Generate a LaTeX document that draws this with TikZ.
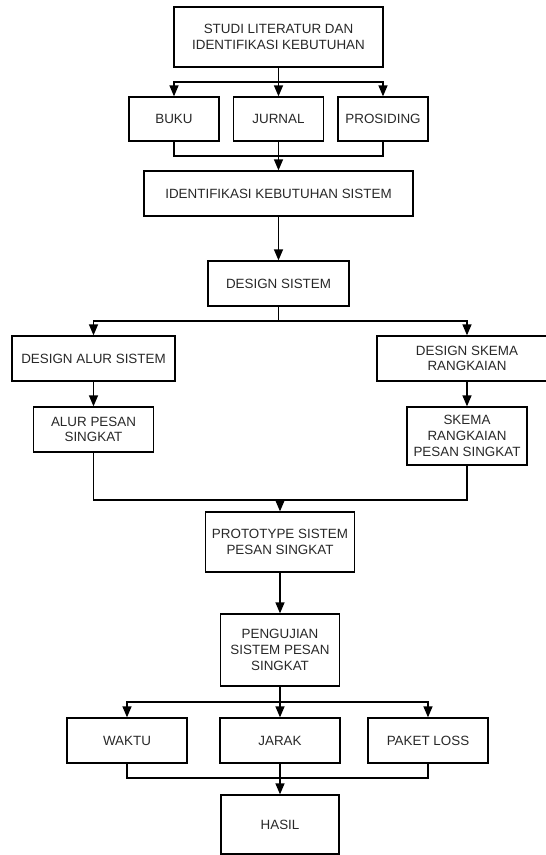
\documentclass[tikz,border=0pt]{standalone}
\usepackage{fontspec}
\setmainfont{Liberation Sans}
\usetikzlibrary{arrows.meta}
\definecolor{txtgray}{RGB}{40,40,40}

\tikzset{
  box/.style={draw, line width=1.3pt, align=center, inner sep=0pt, text=txtgray,
    font=\fontsize{13.4}{15.7}\selectfont},
  ln/.style={line width=1.3pt},
  arr/.style={line width=1.3pt, -{Triangle[width=9pt,length=11pt]}}
}

\begin{document}
\begin{tikzpicture}[x=1pt,y=-1pt]
  \useasboundingbox (0,0) rectangle (546,855);

  % Literature study and its three sources
  \node[box, minimum width=209pt, minimum height=60pt] (studi) at (278.5,37)
    {STUDI LITERATUR DAN\\IDENTIFIKASI KEBUTUHAN};
  \foreach \x/\name/\label in {174/buku/BUKU, 278.5/jurnal/JURNAL, 383/prosiding/PROSIDING} {
    \node[box, minimum width=90pt, minimum height=44pt] (\name) at (\x,119) {\label};
  }

  % System requirements and system design
  \node[box, minimum width=269pt, minimum height=45pt] (kebutuhan) at (278.5,193.5)
    {IDENTIFIKASI KEBUTUHAN SISTEM};
  \node[box, minimum width=141pt, minimum height=45pt] (design) at (278.5,283.5)
    {DESIGN SISTEM};

  % Two design branches
  \node[box, minimum width=163pt, minimum height=45pt] (alur) at (93.5,358.5)
    {DESIGN ALUR SISTEM};
  \node[box, minimum width=180pt, minimum height=45pt] (skema) at (467,358.5)
    {DESIGN SKEMA\\RANGKAIAN};
  \node[box, minimum width=120pt, minimum height=45pt] (alurpesan) at (93.5,429.5)
    {ALUR PESAN\\SINGKAT};
  \node[box, minimum width=120pt, minimum height=58pt] (skemapesan) at (467,436)
    {SKEMA\\RANGKAIAN\\PESAN SINGKAT};

  % Prototype and testing
  \node[box, minimum width=149pt, minimum height=60pt] (prototype) at (280,542)
    {PROTOTYPE SISTEM\\PESAN SINGKAT};
  \node[box, minimum width=119pt, minimum height=72pt] (pengujian) at (280,650)
    {PENGUJIAN\\SISTEM PESAN\\SINGKAT};
  \foreach \x/\name/\label in {127/waktu/WAKTU, 280/jarak/JARAK, 428/paket/PAKET LOSS} {
    \node[box, minimum width=120pt, minimum height=45pt] (\name) at (\x,740.5) {\label};
  }
  \node[box, minimum width=118pt, minimum height=59pt] (hasil) at (280,824.5) {HASIL};

  % Fork from literature study
  \coordinate (f1) at (278.5,82);
  \draw [ln] (studi.south) -- (f1);
  \draw [arr] (f1) -| (buku.north);
  \draw [arr] (f1) -- (jurnal.north);
  \draw [arr] (f1) -| (prosiding.north);

  % Join into requirements
  \coordinate (j1) at (278.5,156);
  \draw [ln] (buku.south) |- (j1);
  \draw [ln] (prosiding.south) |- (j1);
  \draw [arr] (jurnal.south) -- (kebutuhan.north);
  \draw [arr] (kebutuhan.south) -- (design.north);

  % Fork from system design
  \coordinate (f2) at (278.5,321);
  \draw [ln] (design.south) -- (f2);
  \draw [arr] (f2) -| (alur.north);
  \draw [arr] (f2) -| (skema.north);
  \draw [arr] (alur.south) -- (alurpesan.north);
  \draw [arr] (skema.south) -- (skemapesan.north);

  % Join into prototype
  \coordinate (j2) at (280,500);
  \draw [ln] (alurpesan.south) |- (j2);
  \draw [ln] (skemapesan.south) |- (j2);
  \draw [arr] (j2) -- (prototype.north);
  \draw [arr] (prototype.south) -- (pengujian.north);

  % Fork from testing
  \coordinate (f3) at (280,702);
  \draw [ln] (pengujian.south) -- (f3);
  \draw [arr] (f3) -| (waktu.north);
  \draw [arr] (f3) -- (jarak.north);
  \draw [arr] (f3) -| (paket.north);

  % Join into result
  \coordinate (j3) at (280,778);
  \draw [ln] (waktu.south) |- (j3);
  \draw [ln] (paket.south) |- (j3);
  \draw [arr] (jarak.south) -- (hasil.north);
\end{tikzpicture}
\end{document}
